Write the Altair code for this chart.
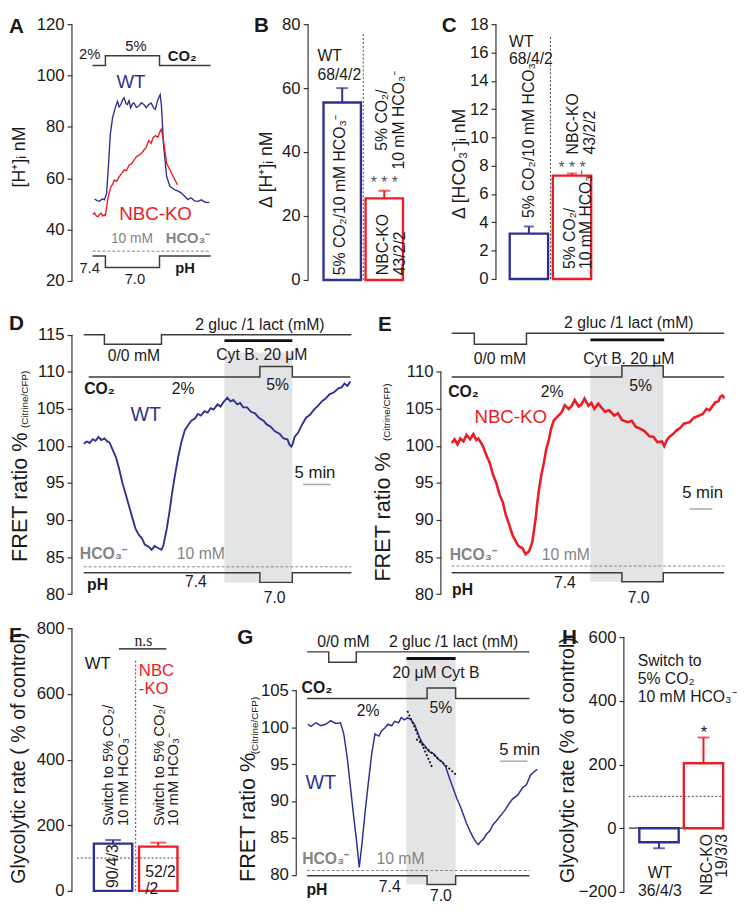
import altair as alt
import pandas as pd

FONT = "Liberation Sans"
SERIF = "Liberation Serif"
NAVY = "#2e3192"
RED = "#ed1c24"
TXT = "#1a1a1a"
GRAYT = "#858585"
LINEC = "#3c3c3c"
SHADE = "#e3e4e6"
AXC = "#333333"

# ---------------- data ----------------
GROUPS = ["WT", "NBC-KO"]

# Panel A: [H+]i traces (time a.u., nM)
A_WT = [(23, 51.9), (26, 51.2), (28, 51.0), (31, 52.0), (33, 51.6), (35.3, 54.2), (37, 64.4), (39, 77.2),
        (41.3, 83.6), (44, 87.4), (46.3, 90.0), (48, 87.8), (49.7, 88.7), (51.5, 90.5), (53, 91.3), (55, 89.0),
        (56.3, 88.7), (58, 90.2), (59.7, 87.4), (61.5, 88.9), (63, 89.3), (65.5, 87.6), (68, 88.1), (70.5, 89.4),
        (73, 88.7), (75.5, 87.5), (78, 88.7), (80.5, 89.3), (83, 87.4), (84.7, 86.8), (87.3, 90.6), (89.7, 92.5),
        (91, 88.0), (93, 73.4), (96.3, 60.6), (99.7, 56.8), (102, 56.2), (104.7, 55.5), (108, 55.0), (111.3, 54.2),
        (114.5, 53.0), (118, 51.7), (121, 52.4), (124.5, 51.2), (128, 51.0), (131.5, 51.6), (135.5, 50.6),
        (139.7, 50.6)]
A_KO = [(21.3, 45.9), (23, 46.5), (24.7, 45.3), (26.5, 45.0), (28, 45.9), (29.5, 46.4), (31.3, 45.3), (33, 45.8),
        (34, 45.5), (35.2, 48.5), (36.3, 51.6), (38, 54.5), (39.7, 56.7), (41.3, 57.6), (43, 59.3), (45.5, 58.8),
        (48, 60.6), (50.5, 61.8), (53, 63.2), (55.5, 63.0), (58, 65.1), (60.5, 65.6), (63, 67.0), (65.5, 68.4),
        (68, 69.0), (70.5, 69.6), (73, 70.9), (75.5, 72.0), (78, 74.7), (80.5, 73.6), (82.5, 75.8), (84.7, 76.6),
        (87.3, 76.0), (89.7, 78.3), (90.7, 79.1), (92, 77.0), (93, 74.7), (96.3, 65.7), (99.7, 63.2), (103, 60.6),
        (107.3, 57.4)]
A_CO2 = [(21, 103.9), (34, 107.7), (89, 103.9), (141, 103.9)]
A_PH = [(21, 29.7), (34, 25.2), (89, 29.7), (141, 29.7)]
A_HCO3 = [(21, 31.6), (141, 31.6)]

# Panels B, C, F, H: bar values (mean, SEM)
B_MEAN = [55.5, 25.5]
B_SEM = [4.5, 2.4]
C_MEAN = [3.2, 7.3]
C_SEM = [0.5, 0.15]
F_MEAN = [144, 135]
F_SEM = [11, 12]
H_MEAN = [-44, 204]
H_SEM = [19, 81]

# Panel D: FRET ratio, WT
D_TRACE = [(12, 100.3), (15, 100.6), (18, 100.4), (21, 100.9), (24, 100.7), (27, 101.2), (30, 100.8), (33, 101.0),
           (36, 100.6), (38, 100.5), (41, 99.6), (44.7, 98.5), (48, 96.9), (51.3, 95.0), (54, 93.8), (58, 91.9),
           (61, 90.5), (64.7, 88.8), (68, 88.0), (71.3, 87.5), (74, 86.7), (78, 86.4), (81, 86.0), (84, 86.5),
           (88, 86.2), (91, 86.0), (93, 86.6), (96.3, 88.8), (99, 91.0), (101.3, 93.2), (104, 95.5), (108, 98.5),
           (111, 100.4), (114.7, 102.1), (118, 102.8), (121.3, 103.4), (125, 103.7), (128, 104.3), (131, 104.1),
           (134.7, 104.7), (138, 104.5), (141, 105.1), (144, 104.9), (148, 105.6), (151, 105.3), (154, 105.9),
           (158, 106.5), (161, 106.0), (164, 106.2), (168, 105.6), (171, 105.8), (174, 105.2), (178, 105.2),
           (182, 104.6), (186, 104.4), (190, 103.8), (194.7, 103.4), (198, 102.9), (202, 102.6), (206, 102.0),
           (211.3, 101.6), (215, 101.0), (219, 100.9), (221, 100.2), (223, 99.9), (224.5, 100.3), (226.3, 101.2),
           (230, 101.8), (234, 102.9), (238, 103.8), (242, 104.2), (246, 104.9), (250, 105.4), (254.7, 106.1),
           (258, 106.4), (262, 107.0), (266, 107.2), (271.3, 107.8), (274, 107.9), (277, 108.4), (280, 108.1),
           (283, 108.7)]
D_GLUC = [(12, 115.0), (33, 113.7), (91, 115.0), (284, 115.0)]
D_CO2 = [(17, 109.3), (191, 110.7), (224, 109.3), (283, 109.3)]
D_PH = [(12, 82.9), (191, 81.6), (224, 82.9), (284, 82.9)]
D_HCO3 = [(12, 83.7), (284, 83.7)]

# Panel E: FRET ratio, NBC-KO
E_TRACE = [(11, 100.4), (14, 100.9), (17, 100.2), (19.7, 101.0), (23, 100.6), (26, 101.5), (29.7, 100.9),
           (33, 101.6), (36, 100.8), (38, 101.0), (41, 100.4), (43, 99.9), (46, 98.8), (49.7, 97.7), (53, 96.1),
           (56.3, 95.0), (59.5, 93.5), (63, 92.4), (66, 90.7), (69.7, 89.3), (73, 87.9), (76.3, 87.1), (79, 86.5),
           (83, 86.2), (86, 85.4), (89.7, 85.8), (91.5, 86.5), (93, 87.1), (94.7, 88.7), (96.3, 90.2), (98, 92.3),
           (99.7, 94.1), (102, 96.0), (104.7, 97.7), (107, 99.5), (109.7, 100.8), (112, 102.3), (114.7, 103.4),
           (118, 103.9), (121, 104.3), (123, 104.6), (126, 105.5), (130, 105.0), (133, 105.4), (136, 106.2),
           (140, 105.3), (143, 105.6), (146, 106.4), (150, 105.4), (153, 105.8), (156, 105.0), (160, 105.7),
           (163, 105.2), (167, 104.6), (171, 104.8), (176.3, 104.1), (180, 104.4), (184, 103.5), (189.7, 103.2),
           (194, 103.4), (198, 102.6), (203, 102.3), (207, 102.0), (212, 101.3), (216.3, 101.2), (220, 100.5),
           (224.7, 100.6), (227, 100.0), (229.7, 100.8), (233, 101.3), (236, 101.6), (239.7, 102.1), (243, 102.4),
           (247, 103.0), (253, 103.2), (257, 103.8), (261, 104.0), (266.3, 104.3), (270, 105.0), (273, 104.8),
           (276.3, 105.4), (279, 105.9), (282, 106.0), (284, 106.6), (286.3, 106.8), (288, 106.4)]
E_GLUC = [(11, 115.2), (34, 113.7), (87, 115.2), (288, 115.2)]
E_CO2 = [(11, 109.3), (184, 110.8), (226, 109.3), (288, 109.3)]
E_PH = [(11, 82.9), (184, 81.7), (226, 82.9), (288, 82.9)]
E_HCO3 = [(11, 83.8), (288, 83.8)]

# Panel G: FRET ratio, WT, with Cyt B
G_TRACE = [(11.7, 100.4), (15, 100.1), (20, 100.6), (25, 100.2), (30, 100.4), (35, 100.9), (40, 100.5),
           (45, 100.6), (48.3, 99.1), (51.7, 96.0), (55, 92.0), (58.3, 88.0), (61.7, 84.1), (64, 81.0),
           (66.7, 84.1), (70, 88.5), (73.3, 92.5), (76.7, 96.4), (80, 99.1), (84, 98.8), (86.7, 99.5), (90, 99.9),
           (93.3, 100.4), (97, 100.2), (100, 100.8), (104, 100.6), (106.7, 101.3), (110, 101.0), (113.3, 101.3),
           (116.7, 101.0), (120, 100.4), (122, 99.8), (125, 98.7), (128, 97.9), (131.7, 97.3), (135, 96.7),
           (140, 96.4), (144, 95.7), (148.3, 95.3), (152, 94.6), (155, 93.4), (159, 91.9), (163.3, 90.3),
           (167, 89.2), (170, 88.1), (173, 87.0), (176.7, 85.9), (180, 85.0), (183, 84.4), (185, 84.1),
           (188, 84.6), (190, 84.8), (193.3, 85.5), (197, 86.0), (200, 86.8), (203.3, 87.3), (207, 87.9),
           (210, 88.4), (213.3, 89.0), (216, 89.6), (220, 90.3), (225, 90.8), (230, 91.8), (234, 92.2),
           (238, 93.5), (242, 94.0), (245, 94.3)]
G_GLUC = [(11, 110.2), (33, 108.8), (61, 110.2), (237, 110.2)]
G_CO2 = [(11, 103.9), (133, 105.3), (162, 103.9), (237, 103.9)]
G_PH = [(11, 79.9), (133, 78.7), (162, 79.9), (237, 79.9)]
G_HCO3 = [(11, 80.6), (237, 80.6)]
G_TANGENTS = [(113, 102.2, 138, 94.6), (122, 98.4, 163, 93.5)]


# ---------------- helpers ----------------
def X(xs):
    return alt.X("t:Q", scale=xs, axis=None)


def Y(ys, yax):
    return alt.Y("v:Q", scale=ys, axis=yax, stack=None)


def sc(lo, hi):
    return alt.Scale(domain=[lo, hi], nice=False, zero=False)


def yaxis(values):
    return alt.Axis(values=values, title=None, grid=False, domain=False, offset=0,
                    ticks=True, tickColor=AXC, tickSize=5, tickWidth=1.2, labelFont=FONT, labelFontSize=17,
                    labelColor=TXT, labelPadding=3, labelFlush=False, labelOverlap=False)


def line(pairs, xs, ys, yax, color, width=1.3, interp="linear", dash=None):
    kw = dict(color=color, strokeWidth=width, interpolate=interp)
    if dash:
        kw["strokeDash"] = dash
    df = pd.DataFrame(pairs, columns=["t", "v"])
    return alt.Chart(df).mark_line(**kw).encode(x=X(xs), y=Y(ys, yax))


def seg(t1, t2, v1, v2, xs, ys, yax, color, width=1.2, dash=None):
    kw = dict(color=color, strokeWidth=width)
    if dash:
        kw["strokeDash"] = dash
    df = pd.DataFrame({"t": [t1], "t2": [t2], "v": [v1], "v2": [v2]})
    return alt.Chart(df).mark_rule(**kw).encode(x=X(xs), x2="t2:Q", y=Y(ys, yax), y2="v2:Q")


def shade(t1, t2, v1, v2, xs, ys, yax):
    df = pd.DataFrame({"t": [t1], "t2": [t2], "v": [v1], "v2": [v2]})
    return alt.Chart(df).mark_rect(color=SHADE).encode(x=X(xs), x2="t2:Q", y=Y(ys, yax), y2="v2:Q")


def texts(rows, xs, ys, yax, size=16, color=TXT, weight="normal", angle=0, align="center",
          baseline="middle", font=FONT, lh=None):
    kw = dict(fontSize=size, color=color, fontWeight=weight, angle=angle, align=align, baseline=baseline,
              font=font, lineBreak="\n")
    if lh:
        kw["lineHeight"] = lh
    df = pd.DataFrame(rows, columns=["label", "t", "v"])
    return alt.Chart(df).mark_text(**kw).encode(x=X(xs), y=Y(ys, yax), text="label:N")


def ptext(label, px, py, size, angle=0, align="center", baseline="middle", weight="normal", color=TXT):
    df = pd.DataFrame({"label": [label]})
    return alt.Chart(df).mark_text(fontSize=size, angle=angle, align=align, baseline=baseline,
                                   fontWeight=weight, color=color, font=FONT).encode(
        x=alt.value(px), y=alt.value(py), text="label:N")


def letter(ch, px, py):
    return ptext(ch, px, py, 21, align="left", baseline="alphabetic", weight="bold")


def axis_rule(vlo, vhi, ys, yax):
    df = pd.DataFrame({"v": [vlo], "v2": [vhi]})
    return alt.Chart(df).mark_rule(color=AXC, strokeWidth=1.2).encode(x=alt.value(0), y=Y(ys, yax), y2="v2:Q")


def bars(means, sems, xs, ys, yax, width, cap):
    pos = list(range(1, len(GROUPS) + 1))
    ends = [m + (s if m >= 0 else -s) for m, s in zip(means, sems)]
    df = pd.DataFrame({"g": GROUPS, "t": pos, "v": means, "e": ends})
    color = alt.Color("g:N", scale=alt.Scale(domain=GROUPS, range=[NAVY, RED]), legend=None)
    b = alt.Chart(df).mark_bar(filled=False, strokeWidth=2.4, width=width, orient="vertical").encode(
        x=X(xs), y=Y(ys, yax), color=color)
    r = alt.Chart(df).mark_rule(strokeWidth=2).encode(x=X(xs), y=Y(ys, yax), y2="e:Q", color=color)
    c = alt.Chart(df).mark_tick(orient="horizontal", size=cap, thickness=2).encode(
        x=X(xs), y=alt.Y("e:Q", scale=ys, axis=yax), color=color)
    return [b, r, c]


# ---------------- Panel A ----------------
xsA, ysA = sc(0, 149), sc(20, 120)
axA = yaxis([20, 40, 60, 80, 100, 120])
panelA = alt.layer(
    axis_rule(20, 120, ysA, axA),
    line(A_CO2, xsA, ysA, axA, LINEC, 1.5, "step-after"),
    line(A_PH, xsA, ysA, axA, LINEC, 1.5, "step-after"),
    line(A_HCO3, xsA, ysA, axA, GRAYT, 1.0, dash=[3, 2]),
    line(A_WT, xsA, ysA, axA, NAVY, 1.4),
    line(A_KO, xsA, ysA, axA, RED, 1.4),
    texts([("2%", 18, 108.5), ("5%", 65, 111.6), ("7.4", 18, 25.0), ("7.0", 64, 20.6)], xsA, ysA, axA, 15),
    texts([("CO₂", 112, 107.7), ("pH", 115, 25.0)], xsA, ysA, axA, 15, weight="bold"),
    texts([("10 mM", 61, 36.5)], xsA, ysA, axA, 14, color=GRAYT),
    texts([("HCO₃⁻", 118, 36.5)], xsA, ysA, axA, 15, color=GRAYT, weight="bold"),
    texts([("WT", 60, 97.4)], xsA, ysA, axA, 19, color=NAVY),
    texts([("NBC-KO", 85, 46.0)], xsA, ysA, axA, 19, color=RED),
    letter("A", -64, 9),
    ptext("[H⁺]ᵢ nM", -53, 135, 18, angle=270),
).properties(width=149, height=261)

# ---------------- Panel B ----------------
xsB, ysB = sc(0.305, 2.41), sc(0, 80)
axB = yaxis([0, 20, 40, 60, 80])
panelB = alt.layer(
    axis_rule(0, 80, ysB, axB),
    seg(1.5, 1.5, 0, 77.5, xsB, ysB, axB, "#444444", 1.0, dash=[2, 2]),
    *bars(B_MEAN, B_SEM, xsB, ysB, axB, 38, 12),
    texts([("WT\n68/4/2", 0.41, 70.15)], xsB, ysB, axB, 16, align="left", lh=20),
    texts([("5% CO₂/10 mM HCO₃⁻", 0.96, 1.5), ("NBC-KO\n43/2/2", 1.98, 1.5)], xsB, ysB, axB, 16,
          angle=270, align="left", lh=17),
    texts([("5% CO₂/\n10 mM HCO₃⁻", 1.95, 50)], xsB, ysB, axB, 16, angle=270, lh=17),
    texts([("* * *", 2.0, 30.3)], xsB, ysB, axB, 16, color="#555555"),
    letter("B", -55, 8),
    ptext("Δ [H⁺]ᵢ nM", -42, 148, 18, angle=270),
).properties(width=100, height=260)

# ---------------- Panel C ----------------
xsC, ysC = sc(0.35, 2.45), sc(0, 18)
axC = yaxis(list(range(0, 19, 2)))
panelC = alt.layer(
    axis_rule(0, 18, ysC, axC),
    seg(1.5, 1.5, 0, 17.2, xsC, ysC, axC, "#444444", 1.0, dash=[2, 2]),
    *bars(C_MEAN, C_SEM, xsC, ysC, axC, 39, 10),
    texts([("WT\n68/4/2", 0.54, 16.75)], xsC, ysC, axC, 16, align="left", lh=18),
    texts([("5% CO₂/10 mM HCO₃⁻", 1.01, 4.3), ("NBC-KO\n43/2/2", 2.02, 8.8),
           ("5% CO₂/\n10 mM HCO₃⁻", 1.95, 0.7)], xsC, ysC, axC, 16, angle=270, align="left", lh=17),
    texts([("* * *", 2.0, 7.8)], xsC, ysC, axC, 16, color="#555555"),
    letter("C", -55, 8),
    ptext("Δ [HCO₃⁻]ᵢ nM", -36, 142, 18, angle=270),
).properties(width=102, height=259)

# ---------------- Panel D ----------------
xsD, ysD = sc(0, 284), sc(79, 118)
axD = yaxis([80, 85, 90, 95, 100, 105, 110, 115])
panelD = alt.layer(
    shade(155, 224, 81.6, 112.6, xsD, ysD, axD),
    axis_rule(80, 115, ysD, axD),
    line(D_GLUC, xsD, ysD, axD, LINEC, 1.5, "step-after"),
    seg(155, 224, 114.2, 114.2, xsD, ysD, axD, "#111111", 3),
    line(D_CO2, xsD, ysD, axD, LINEC, 1.5, "step-after"),
    line(D_HCO3, xsD, ysD, axD, GRAYT, 1.0, dash=[3, 2]),
    line(D_PH, xsD, ysD, axD, LINEC, 1.5, "step-after"),
    seg(235, 263, 94.8, 94.8, xsD, ysD, axD, "#aaaaaa", 1.5),
    line(D_TRACE, xsD, ysD, axD, NAVY, 1.9),
    texts([("2 gluc /1 lact (mM)", 191, 116.3), ("0/0 mM", 63, 112.1), ("Cyt B. 20 μM", 193, 112.3),
           ("2%", 113, 107.7), ("5%", 209, 108.2), ("7.4", 126, 81.7), ("7.0", 206, 79.5)],
          xsD, ysD, axD, 16),
    texts([("CO₂", 28, 107.6), ("pH", 26, 81.2)], xsD, ysD, axD, 16, weight="bold"),
    texts([("HCO₃⁻", 32, 85.4)], xsD, ysD, axD, 16, color=GRAYT, weight="bold"),
    texts([("10 mM", 131, 85.4)], xsD, ysD, axD, 16, color=GRAYT),
    texts([("5 min", 247, 96.3)], xsD, ysD, axD, 17),
    texts([("WT", 75, 104.2)], xsD, ysD, axD, 20, color=NAVY),
    letter("D", -64, 17.6),
    ptext("FRET ratio %", -53, 253.6, 22, angle=270, align="left"),
    ptext("(Citrine/CFP)", -48, 117.6, 10, angle=270, align="left"),
).properties(width=284, height=294)

# ---------------- Panel E ----------------
xsE, ysE = sc(0, 288), sc(79, 118)
axE = yaxis([80, 85, 90, 95, 100, 105, 110])
panelE = alt.layer(
    shade(152, 226, 81.7, 110.8, xsE, ysE, axE),
    axis_rule(80, 110, ysE, axE),
    line(E_GLUC, xsE, ysE, axE, LINEC, 1.5, "step-after"),
    seg(152, 227, 114.3, 114.3, xsE, ysE, axE, "#111111", 3),
    line(E_CO2, xsE, ysE, axE, LINEC, 1.5, "step-after"),
    line(E_HCO3, xsE, ysE, axE, GRAYT, 1.0, dash=[3, 2]),
    line(E_PH, xsE, ysE, axE, LINEC, 1.5, "step-after"),
    seg(253, 276, 91.5, 91.5, xsE, ysE, axE, "#aaaaaa", 1.5),
    line(E_TRACE, xsE, ysE, axE, RED, 2.6),
    texts([("2 gluc /1 lact (mM)", 191, 116.5), ("0/0 mM", 60, 111.7), ("Cyt B. 20 μM", 191, 111.7),
           ("2%", 113, 107.2), ("5%", 203, 108.1), ("7.4", 126, 81.5), ("7.0", 201, 79.5)],
          xsE, ysE, axE, 16),
    texts([("CO₂", 23, 107.3), ("pH", 22, 80.5)], xsE, ysE, axE, 16, weight="bold"),
    texts([("HCO₃⁻", 33, 85.3)], xsE, ysE, axE, 16, color=GRAYT, weight="bold"),
    texts([("10 mM", 127, 85.3)], xsE, ysE, axE, 16, color=GRAYT),
    texts([("5 min", 266, 93.7)], xsE, ysE, axE, 17),
    texts([("NBC-KO", 71, 103.9)], xsE, ysE, axE, 19, color=RED),
    letter("E", -64, 18.6),
    ptext("FRET ratio %", -59, 273.6, 22, angle=270, align="left"),
    ptext("(Citrine/CFP)", -55, 130.6, 10, angle=270, align="left"),
).properties(width=288, height=294)

# ---------------- Panel F ----------------
xsF, ysF = sc(0.2, 3.028), sc(0, 800)
axF = yaxis([0, 200, 400, 600, 800])
panelF = alt.layer(
    axis_rule(0, 800, ysF, axF),
    seg(0.2, 2.485, 100, 100, xsF, ysF, axF, "#444444", 1.0, dash=[2, 2]),
    seg(1.5, 1.5, 0, 707, xsF, ysF, axF, "#444444", 1.0, dash=[2, 2]),
    seg(1.13, 2.18, 737, 737, xsF, ysF, axF, "#111111", 1.2),
    *bars(F_MEAN, F_SEM, xsF, ysF, axF, 39, 16),
    texts([("n.s", 1.67, 761)], xsF, ysF, axF, 16, font=SERIF),
    texts([("WT", 0.66, 692)], xsF, ysF, axF, 17),
    texts([("NBC\n-KO", 1.57, 671)], xsF, ysF, axF, 17, color=RED, align="left", lh=19),
    texts([("Switch to 5% CO₂/\n10 mM HCO₃⁻", 0.89, 198), ("Switch to 5% CO₂/\n10 mM HCO₃⁻", 2.01, 198)],
          xsF, ysF, axF, 15, angle=270, align="left", lh=15),
    texts([("90/4/3", 1.0, 9)], xsF, ysF, axF, 16, angle=270, align="left"),
    texts([("52/2\n/2", 1.71, 58)], xsF, ysF, axF, 16, align="left", lh=17),
    letter("F", -64, 14),
    ptext("Glycolytic rate ( % of control)", -53.5, 132, 20, angle=270),
).properties(width=140, height=267)

# ---------------- Panel G ----------------
xsG, ysG = sc(0, 245), sc(77.7, 113.4)
axG = yaxis([80, 85, 90, 95, 100, 105])
tan_df = pd.DataFrame(G_TANGENTS, columns=["t", "v", "t2", "v2"])
panelG = alt.layer(
    shade(112, 162, 78.7, 109.3, xsG, ysG, axG),
    axis_rule(80, 105, ysG, axG),
    line(G_GLUC, xsG, ysG, axG, LINEC, 1.5, "step-after"),
    seg(112, 162, 109.3, 109.3, xsG, ysG, axG, "#111111", 3),
    line(G_CO2, xsG, ysG, axG, LINEC, 1.5, "step-after"),
    line(G_HCO3, xsG, ysG, axG, GRAYT, 1.0, dash=[3, 2]),
    line(G_PH, xsG, ysG, axG, LINEC, 1.5, "step-after"),
    seg(207, 235, 95.4, 95.4, xsG, ysG, axG, "#aaaaaa", 1.5),
    line(G_TRACE, xsG, ysG, axG, NAVY, 1.5),
    alt.Chart(tan_df).mark_rule(color="#111111", strokeWidth=1.8, strokeDash=[2, 2]).encode(
        x=X(xsG), x2="t2:Q", y=Y(ysG, axG), y2="v2:Q"),
    texts([("0/0 mM", 48, 111.5), ("2 gluc /1 lact (mM)", 160, 111.5), ("20 μM Cyt B", 142, 107.3),
           ("2%", 73, 102.2), ("5%", 147, 102.6), ("7.4", 95, 78.3), ("7.0", 147, 77.1)],
          xsG, ysG, axG, 16),
    texts([("CO₂", 21, 105.3), ("pH", 21, 78.0)], xsG, ysG, axG, 16, weight="bold"),
    texts([("HCO₃⁻", 30, 82.1)], xsG, ysG, axG, 16, color=GRAYT, weight="bold"),
    texts([("10 mM", 106, 82.1)], xsG, ysG, axG, 16, color=GRAYT),
    texts([("5 min", 227, 96.9)], xsG, ysG, axG, 17),
    texts([("WT", 25, 92.4)], xsG, ysG, axG, 20, color=NAVY),
    letter("G", -60, 16),
    ptext("FRET ratio %", -49, 258, 22, angle=270, align="left"),
    ptext("(Citrine/CFP)", -42, 128, 10, angle=270, align="left"),
).properties(width=245, height=268)

# ---------------- Panel H ----------------
xsH, ysH = sc(0.32, 2.4), sc(-200, 628)
axH = yaxis([-200, 0, 200, 400, 600])
panelH = alt.layer(
    axis_rule(-200, 600, ysH, axH),
    seg(0.32, 2.4, 100, 100, xsH, ysH, axH, "#444444", 1.0, dash=[2, 2]),
    seg(0.32, 2.4, 0, 0, xsH, ysH, axH, AXC, 1.2),
    *bars(H_MEAN, H_SEM, xsH, ysH, axH, 40, 12),
    texts([("Switch to\n5% CO₂\n10 mM HCO₃⁻", 0.52, 526)], xsH, ysH, axH, 16, align="left", lh=18.5),
    texts([("*", 2.01, 300)], xsH, ysH, axH, 17),
    texts([("WT\n36/4/3", 1.02, -140)], xsH, ysH, axH, 16, lh=19),
    texts([("NBC-KO\n19/3/3", 2.07, -18)], xsH, ysH, axH, 16, angle=270, align="right", lh=16),
    letter("H", -63, 16),
    ptext("Glycolytic rate (% of control)", -57, 134, 20, angle=270),
).properties(width=104, height=268)

row1 = alt.hconcat(panelA, panelB, panelC, spacing=91, bounds="flush")
row2 = alt.hconcat(panelD, panelE, spacing=91, bounds="flush")
row3 = alt.hconcat(panelF, panelG, panelH, spacing=88, bounds="flush")

chart = alt.vconcat(alt.vconcat(row1, row2, spacing=24), row3, spacing=13).properties(
    padding=0).configure_view(stroke=None)

chart.save("out.html", embed_options={"renderer": "svg", "actions": False})
